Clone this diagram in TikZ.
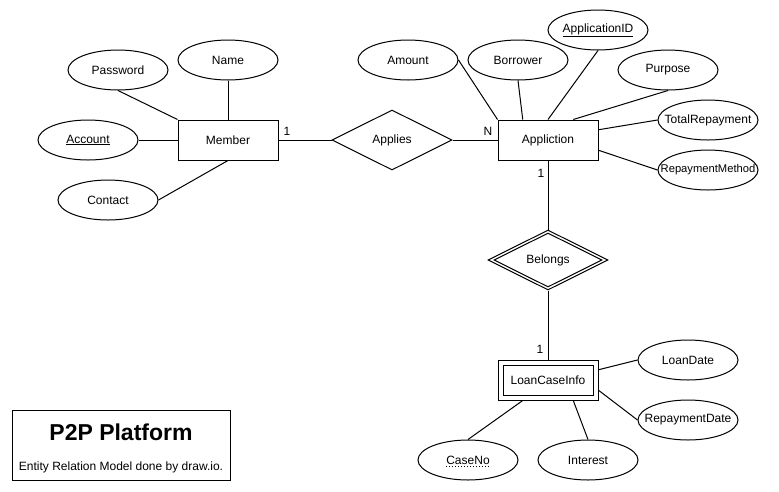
\documentclass[tikz,border=0pt]{standalone}
\usepackage{fontspec}
\setmainfont{Liberation Sans}
\usetikzlibrary{shapes.geometric,calc}
\tikzset{
  base/.style={font=\fontsize{12}{14}\selectfont, text=black},
  attr/.style={base, draw, line width=1pt, ellipse, minimum width=100pt, minimum height=40pt, inner sep=0pt},
  entity/.style={base, draw, line width=1pt, rectangle, minimum width=100pt, minimum height=40pt, inner sep=0pt},
  rel/.style={base, draw, line width=1pt, diamond, aspect=2, minimum width=120pt, minimum height=60pt, inner sep=0pt},
  conn/.style={draw, line width=1pt},
  card/.style={base, inner sep=0pt}
}
\begin{document}
\begin{tikzpicture}[x=1pt,y=-1pt]
\useasboundingbox (0,0) rectangle (779,491);
\fill[white] (0,0) rectangle (779,491);
% Member
\node[entity] (member) at (228,140) {Member};
\node[attr] (password) at (118,70) {Password};
\node[attr] (name) at (228,60) {Name};
\node[attr] (account) at (88,140) {\underline{Account}};
\node[attr] (contact) at (108,200) {Contact};
\draw[conn] (password.south) -- (member.north west);
\draw[conn] (name.south) -- (member.north);
\draw[conn] (account.east) -- (member.west);
\draw[conn] (contact.east) -- (member.south);
% Applies
\node[rel] (applies) at (392,140) {Applies};
\node[entity] (appl) at (548,140) {Appliction};
\draw[conn] (member.east) -- (applies.west);
\draw[conn] (applies.east) -- (appl.west);
\node[card] (c1) at (287,131) {1};
\node[card] (cn) at (488,131) {N};
% Application attributes
\node[attr] (amount) at (408,60) {Amount};
\node[attr] (borrower) at (518,60) {Borrower};
\node[attr] (appid) at (598,30) {\makebox[0pt]{\underline{ApplicationID}}};
\node[attr] (purpose) at (668,70) {Purpose};
\node[attr] (total) at (708,120) {\makebox[0pt]{TotalRepayment}};
\node[attr] (method) at (708,170) {\makebox[0pt]{\fontsize{11.2}{14}\selectfont RepaymentMethod}};
\draw[conn] (amount.east) -- (appl.north west);
\draw[conn] (borrower.south) -- ($(appl.north west)!0.25!(appl.north east)$);
\draw[conn] (appid.south) -- (appl.north);
\draw[conn] (purpose.south) -- ($(appl.north west)!0.75!(appl.north east)$);
\draw[conn] (total.west) -- ($(appl.north east)!0.25!(appl.south east)$);
\draw[conn] (method.west) -- ($(appl.north east)!0.75!(appl.south east)$);
% Belongs
\node[rel] (belongs) at (548,260) {};
\node[base, draw, line width=1pt, diamond, aspect=2, minimum width=108pt, minimum height=54pt, inner sep=0pt] (belongsin) at (548,260) {Belongs};
\node[entity] (loan) at (548,380) {};
\node[base, draw, line width=1pt, rectangle, minimum width=90pt, minimum height=30pt, inner sep=0pt] (loanin) at (548,380) {LoanCaseInfo};
\draw[conn] (appl.south) -- (belongs.north);
\draw[conn] (belongs.south) -- (loan.north);
\node[card] (c2) at (541,173) {1};
\node[card] (c3) at (540,349) {1};
% LoanCaseInfo attributes
\node[attr] (loandate) at (688,360) {LoanDate};
\node[attr] (repdate) at (688,420) {\makebox[0pt]{RepaymentDate}};
\node[attr] (caseno) at (468,460) {};
\node[base, inner sep=0pt] (casenotext) at (468,460) {CaseNo};
\draw[dotted, line width=1pt] ([yshift=-2.5pt]casenotext.base west) -- ([yshift=-2.5pt]casenotext.base east);
\node[attr] (interest) at (588,460) {Interest};
\draw[conn] (loandate.west) -- ($(loan.north east)!0.25!(loan.south east)$);
\draw[conn] (repdate.west) -- ($(loan.north east)!0.75!(loan.south east)$);
\draw[conn] (caseno.north) -- ($(loan.south west)!0.25!(loan.south east)$);
\draw[conn] (interest.north) -- ($(loan.south west)!0.75!(loan.south east)$);
% Title box
\node[draw, line width=1pt, minimum width=218pt, minimum height=70pt, inner sep=0pt] (titlebox) at (121,445) {};
\node[base, font=\fontsize{23}{26}\selectfont\bfseries, inner sep=0pt] (title) at (121,432) {P2P Platform};
\node[base, inner sep=0pt] (subtitle) at (121,467) {Entity Relation Model done by draw.io.};
\end{tikzpicture}
\end{document}
